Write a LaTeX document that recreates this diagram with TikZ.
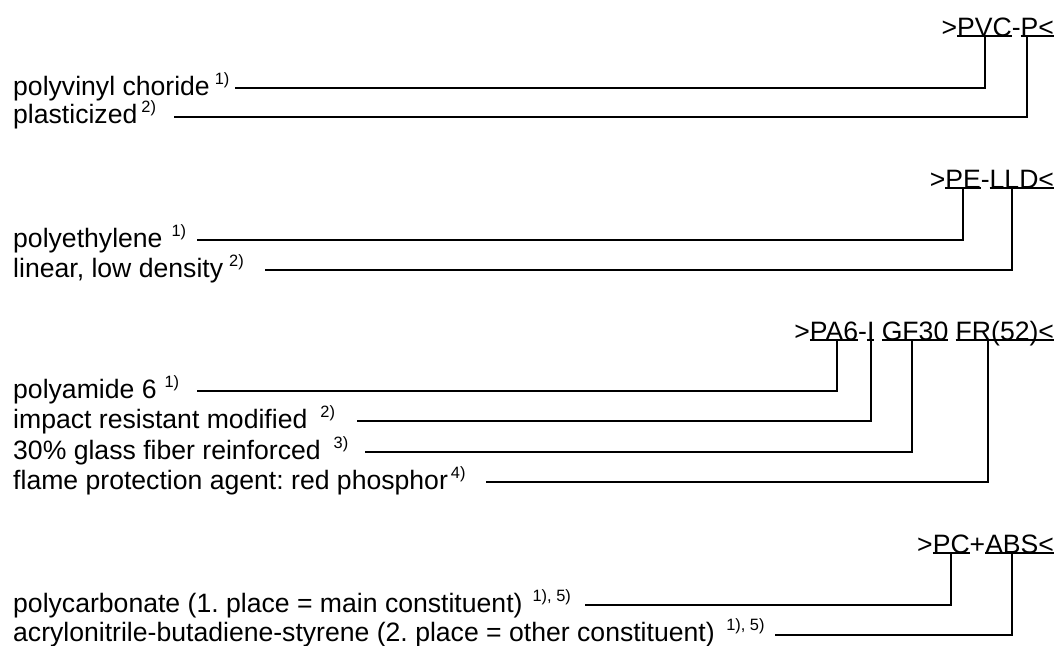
\documentclass[tikz,border=0pt]{standalone}
\usepackage{fontspec}
\setmainfont{Liberation Sans}
\usetikzlibrary{positioning}
\frenchspacing
\newcommand{\fn}[2][5pt]{\hspace{#1}\raisebox{11pt}{\fontsize{16.4}{16}\selectfont #2}}
\tikzstyle{term}=[anchor=base west,inner sep=0pt,font=\fontsize{26.6}{30}\selectfont]
\tikzstyle{code}=[inner sep=0pt,outer sep=0pt,text depth=0pt,font=\fontsize{26.6}{30}\selectfont]
\tikzstyle{uline}=[line width=2pt,yshift=-2.5pt]
\tikzstyle{lead}=[line width=2pt]
\begin{document}
\begin{tikzpicture}[x=1pt,y=-1pt]
\useasboundingbox (0,0) rectangle (1062,645);
% PVC-P
\node[code,anchor=base east] (pvc-lt) at (1054,36) {<};
\node[code,base left=0pt of pvc-lt] (pvc-p) {P};
\node[code,base left=0pt of pvc-p] (pvc-dash) {-};
\node[code,base left=0pt of pvc-dash] (pvc-pvc) {PVC};
\node[code,base left=0pt of pvc-pvc] (pvc-gt) {>};
\draw[uline] (pvc-pvc.south west) -- (pvc-pvc.south east);
\draw[uline] (pvc-p.south west) -- (pvc-lt.south east);
\node[term] (pvc-t1) at (13,95) {polyvinyl choride\fn{1)}};
\node[term] (pvc-t2) at (13,123) {plasticized\fn[4pt]{2)}};
\coordinate (pvc-c1) at (235,88);
\coordinate (pvc-c2) at (174,117);
\draw[lead] (pvc-pvc.south) |- (pvc-c1);
\draw[lead] ([xshift=-3pt]pvc-p.south) |- (pvc-c2);
% PE-LLD
\node[code,anchor=base east] (pe-lt) at (1054,188) {<};
\node[code,base left=0pt of pe-lt] (pe-lld) {LLD};
\node[code,base left=0pt of pe-lld] (pe-dash) {-};
\node[code,base left=0pt of pe-dash] (pe-pe) {PE};
\node[code,base left=0pt of pe-pe] (pe-gt) {>};
\draw[uline] (pe-pe.south west) -- (pe-pe.south east);
\draw[uline] (pe-lld.south west) -- (pe-lt.south east);
\node[term] (pe-t1) at (13,247) {polyethylene\fn[9pt]{1)}};
\node[term] (pe-t2) at (13,277) {linear, low density\fn[6pt]{2)}};
\coordinate (pe-c1) at (197,240);
\coordinate (pe-c2) at (265,270);
\draw[lead] (pe-pe.south) |- (pe-c1);
\draw[lead] ([xshift=-2pt]pe-lld.south) |- (pe-c2);
% PA6-I GF30 FR(52)
\node[code,anchor=base east] (pa-lt) at (1054,340) {<};
\node[code,base left=0pt of pa-lt] (pa-fr) {FR(52)};
\node[code,base left=7.4pt of pa-fr] (pa-gf) {GF30};
\node[code,base left=7.4pt of pa-gf] (pa-i) {I};
\node[code,base left=0pt of pa-i] (pa-dash) {-};
\node[code,base left=0pt of pa-dash] (pa-pa) {PA6};
\node[code,base left=0pt of pa-pa] (pa-gt) {>};
\draw[uline] (pa-pa.south west) -- (pa-pa.south east);
\draw[uline] (pa-i.south west) -- (pa-i.south east);
\draw[uline] (pa-gf.south west) -- (pa-gf.south east);
\draw[uline] (pa-fr.south west) -- (pa-lt.south east);
\node[term] (pa-t1) at (13,398) {polyamide 6\fn[8pt]{1)}};
\node[term] (pa-t2) at (13,428) {impact resistant modified\fn[13pt]{2)}};
\node[term] (pa-t3) at (13,459) {30\% glass fiber reinforced\fn[13pt]{3)}};
\node[term] (pa-t4) at (13,489) {flame protection agent: red phosphor\fn[3pt]{4)}};
\coordinate (pa-c1) at (197,391);
\coordinate (pa-c2) at (357,421);
\coordinate (pa-c3) at (365,452);
\coordinate (pa-c4) at (486,482);
\draw[lead] ([xshift=3pt]pa-pa.south) |- (pa-c1);
\draw[lead] (pa-i.south) |- (pa-c2);
\draw[lead] ([xshift=-3pt]pa-gf.south) |- (pa-c3);
\draw[lead] ([xshift=-9pt]pa-fr.south) |- (pa-c4);
% PC+ABS
\node[code,anchor=base east] (pc-lt) at (1054,553) {<};
\node[code,base left=0pt of pc-lt] (pc-abs) {ABS};
\node[code,base left=0pt of pc-abs] (pc-plus) {+};
\node[code,base left=0pt of pc-plus] (pc-pc) {PC};
\node[code,base left=0pt of pc-pc] (pc-gt) {>};
\draw[uline] (pc-pc.south west) -- (pc-pc.south east);
\draw[uline] (pc-abs.south west) -- (pc-lt.south east);
\node[term] (pc-t1) at (13,612) {polycarbonate (1. place = main constituent)\fn[10pt]{1), 5)}};
\node[term] (pc-t2) at (13,641) {acrylonitrile-butadiene-styrene (2. place = other constituent)\fn[11.5pt]{1), 5)}};
\coordinate (pc-c1) at (585,605);
\coordinate (pc-c2) at (775,635);
\draw[lead] (pc-pc.south) |- (pc-c1);
\draw[lead] (pc-abs.south) |- (pc-c2);
\end{tikzpicture}
\end{document}
